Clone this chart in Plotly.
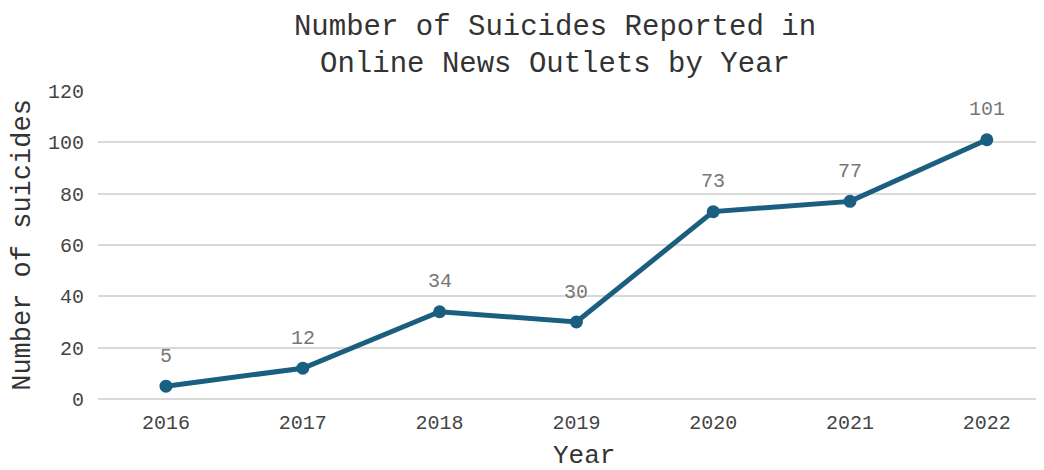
import plotly.graph_objects as go

years = ["2016", "2017", "2018", "2019", "2020", "2021", "2022"]
suicides = [5, 12, 34, 30, 73, 77, 101]
y_ticks = [0, 20, 40, 60, 80, 100, 120]

FONT = "Liberation Mono, Courier New, monospace"
LINE_COLOR = "#1a5f80"

# page body has an 8px margin, so the figure is 8px smaller than the window
W, H = 1036, 462

fig = go.Figure()
fig.add_trace(go.Scatter(
    x=years, y=suicides, mode="lines+markers",
    line=dict(color=LINE_COLOR, width=5),
    marker=dict(color=LINE_COLOR, size=13),
    cliponaxis=False, showlegend=False,
))
for i, v in enumerate(suicides):
    fig.add_annotation(x=i, y=v, xref="x", yref="y", text=str(v), showarrow=False, yshift=30,
                       font=dict(family=FONT, size=20, color="#777777"))

# x-axis title placed as annotation (reference has it off the plot centre)
fig.add_annotation(text="Year", xref="paper", yref="paper", x=0.514, y=0, yshift=-57,
                   xanchor="center", yanchor="middle", showarrow=False,
                   font=dict(family=FONT, size=26, color="#333333"))

fig.update_layout(
    width=W, height=H,
    paper_bgcolor="white", plot_bgcolor="white",
    margin=dict(l=90, r=0, t=83, b=71),
    title=dict(text="Number of Suicides Reported in<br>Online News Outlets by Year",
               x=0.528, xref="container", xanchor="center",
               y=0.942, yref="container", yanchor="top",
               font=dict(family=FONT, size=29, color="#333333")),
    font=dict(family=FONT, color="#444444"),
)
fig.update_xaxes(type="category", range=[-0.497, 6.418], automargin=False,
                 tickfont=dict(family=FONT, size=20, color="#444444"), ticklabelstandoff=9,
                 showgrid=False, showline=False, ticks="")
fig.update_yaxes(range=[0, 120], tickvals=y_ticks, automargin=False,
                 title=dict(text="Number of suicides", font=dict(family=FONT, size=27, color="#333333"), standoff=10),
                 tickfont=dict(family=FONT, size=20, color="#444444"), ticklabelstandoff=13,
                 showgrid=True, gridcolor="#d9d9d9", gridwidth=2, zeroline=True,
                 zerolinecolor="#d9d9d9", zerolinewidth=2, ticks="")

fig.write_html("out.html")
